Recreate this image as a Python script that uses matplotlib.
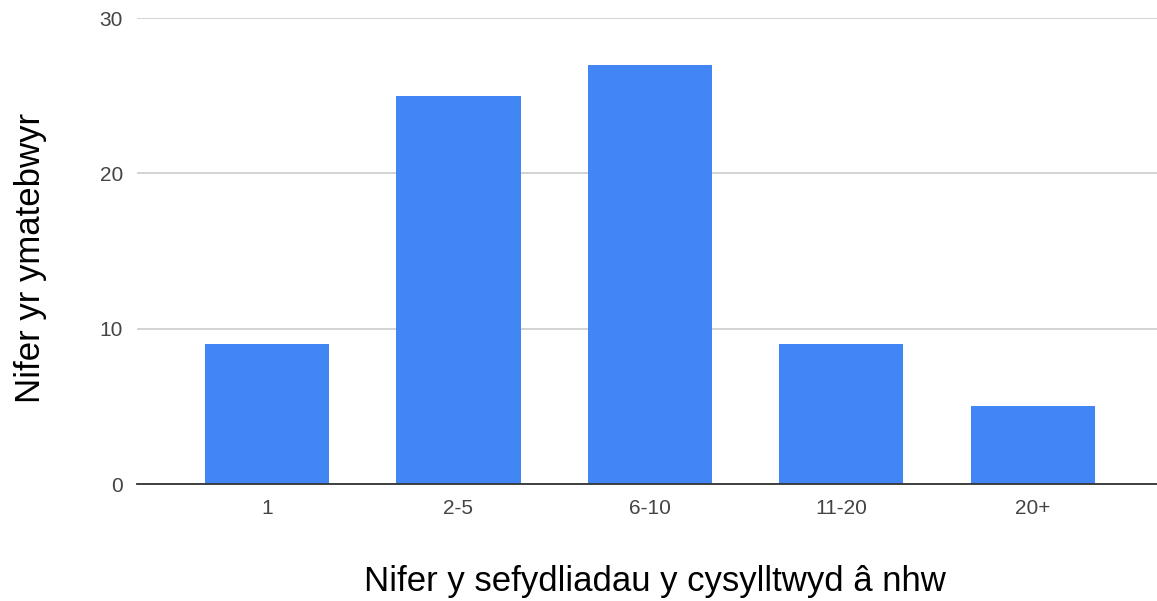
import matplotlib
matplotlib.use("Agg")
import matplotlib.pyplot as plt

categories = ["1", "2-5", "6-10", "11-20", "20+"]
values = [9, 25, 27, 9, 5]
yticks = [0, 10, 20, 30]

plt.rcParams['font.family'] = ['Liberation Sans', 'DejaVu Sans']

fig = plt.figure(figsize=(11.57, 6.01), dpi=100)
ax = fig.add_axes([137/1157, 117/601, 1020/1157, 466/601])

x = list(range(len(categories)))
ax.bar(x, values, width=0.648, color="#4285F4", zorder=3)
ax.set_xlim(-0.679, 4.648)
ax.set_ylim(0, 30)
ax.set_yticks(yticks)
ax.set_xticks(x)
ax.set_xticklabels(categories)
ax.yaxis.grid(True, color="#cccccc", linewidth=1.2, zorder=0)
for s in ["top", "right", "left"]:
    ax.spines[s].set_visible(False)
ax.spines["bottom"].set_color("#333333")
ax.spines["bottom"].set_linewidth(1.3)
ax.spines["bottom"].set_zorder(4)
ax.tick_params(axis="both", length=0, labelsize=15, labelcolor="#444444")
ax.tick_params(axis="y", pad=10)
ax.tick_params(axis="x", pad=11)

fig.text(31/1157, 1 - 258/601, "Nifer yr ymatebwyr", rotation=90, fontsize=25,
         color="#000000", ha="center", va="center")
fig.text(655/1157, 1 - 582/601, "Nifer y sefydliadau y cysylltwyd â nhw", fontsize=25,
         color="#000000", ha="center", va="center")

fig.savefig("out.png", dpi=100)
